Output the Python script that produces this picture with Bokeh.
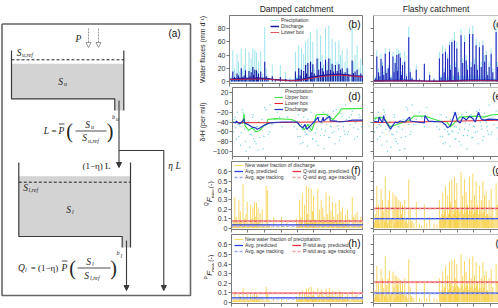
import math
from bokeh.plotting import figure
from bokeh.layouts import row, column
from bokeh.models import Range1d, Legend, LegendItem, Label, FixedTicker, Arrow, NormalHead, Span
from bokeh.core.properties import value
from bokeh.embed import file_html
from bokeh.resources import INLINE

# ---------------- time axis (days over two years) ----------------
t_start, t_end = 0, 730
time_ticks = [0, 91, 182, 274, 365, 456, 547, 638, 730]

# ---------------- precipitation events (shared by both catchments) ----------------
ev_day = [10, 18, 27, 35, 41, 49, 56, 64, 72, 80, 87, 95, 106, 112, 118, 127, 131, 138, 147, 152,
          158, 170, 180, 192, 200, 210, 233, 250, 277, 306, 330,
          359, 368, 377, 385, 392, 404, 414, 420, 427, 441, 448, 454, 462, 477, 486, 496, 505, 512, 523, 532,
          541, 550, 559, 566, 577, 587, 596, 605, 614, 622, 630, 641, 650, 668, 675, 684, 695, 705, 715, 725]
ev_P = [8, 47, 20, 12, 42, 30, 15, 50, 18, 25, 50, 10, 45, 20, 35, 50, 22, 48, 44, 15,
        30, 46, 12, 83, 20, 8, 26, 5, 25, 15, 6,
        45, 10, 55, 20, 50, 42, 60, 25, 65, 75, 30, 60, 20, 80, 35, 70, 40, 25, 82, 30,
        85, 35, 65, 25, 60, 30, 62, 40, 47, 15, 30, 50, 20, 88, 30, 40, 55, 20, 35, 25]
ev_dP = [-35, -52, -20, -70, -48, -62, -15, -25, -80, -45, -58, -92, -66, -30, -75, -60, -85, -50, -40, -72,
         -55, -95, -10, -45, -65, -5, -35, -20, -50, -30, -40,
         -55, -25, -70, -45, -82, -60, -65, -35, -58, -50, -75, -40, -62, -88, -30, -55, -20, -68, -45, -25,
         -72, -50, -35, -60, -15, -48, -78, -22, -40, -58, -5, -65, -30, -18, -52, -42, -70, -25, -38, -60]
# discharge peaks
Qd_peak = [4, 15, 7, 5, 12, 9, 6, 20, 7, 9, 17, 5, 16, 8, 14, 22, 10, 18, 17, 7,
           12, 15, 5, 30, 8, 4, 8, 2, 7, 4, 2,
           15, 5, 20, 9, 18, 16, 25, 12, 28, 30, 14, 26, 12, 35, 18, 30, 20, 15, 33, 17,
           35, 18, 27, 15, 25, 16, 26, 18, 20, 11, 14, 20, 11, 32, 13, 15, 18, 9, 12, 9]
Qf_peak = [5, 38, 14, 8, 34, 24, 10, 42, 13, 20, 45, 6, 38, 14, 28, 40, 16, 42, 36, 10,
           25, 30, 8, 67, 14, 5, 18, 3, 27, 10, 3,
           35, 6, 42, 14, 45, 35, 55, 18, 60, 62, 22, 50, 14, 70, 28, 60, 32, 18, 72, 22,
           72, 26, 55, 18, 52, 22, 55, 30, 40, 10, 22, 42, 14, 75, 22, 32, 45, 14, 28, 18]
# new water fractions per event
fQ_damped = [0.08, 0.33, 0.12, 0.06, 0.30, 0.18, 0.07, 0.47, 0.10, 0.15, 0.28, 0.05, 0.25, 0.10, 0.22, 0.28, 0.12, 0.27, 0.22, 0.08,
             0.16, 0.20, 0.05, 0.45, 0.40, 0.04, 0.12, 0.03, 0.12, 0.06, 0.02,
             0.10, 0.04, 0.30, 0.12, 0.37, 0.25, 0.45, 0.15, 0.43, 0.42, 0.18, 0.35, 0.10, 0.42, 0.20, 0.30, 0.22, 0.12, 0.38, 0.15,
             0.35, 0.18, 0.28, 0.12, 0.27, 0.15, 0.30, 0.18, 0.22, 0.06, 0.14, 0.20, 0.10, 0.33, 0.12, 0.15, 0.18, 0.08, 0.12, 0.08]
fP_damped = [0.02, 0.10, 0.04, 0.02, 0.08, 0.06, 0.03, 0.15, 0.04, 0.05, 0.09, 0.02, 0.08, 0.04, 0.07, 0.09, 0.05, 0.08, 0.07, 0.03,
             0.05, 0.06, 0.02, 0.16, 0.10, 0.02, 0.04, 0.01, 0.04, 0.02, 0.01,
             0.06, 0.02, 0.10, 0.05, 0.12, 0.09, 0.14, 0.06, 0.15, 0.16, 0.07, 0.12, 0.05, 0.15, 0.08, 0.13, 0.09, 0.06, 0.14, 0.07,
             0.15, 0.08, 0.12, 0.06, 0.11, 0.07, 0.12, 0.08, 0.10, 0.03, 0.06, 0.09, 0.05, 0.12, 0.05, 0.07, 0.08, 0.04, 0.05, 0.04]
fQ_flashy = [0.15, 0.45, 0.25, 0.12, 0.42, 0.30, 0.18, 0.55, 0.22, 0.30, 0.40, 0.10, 0.38, 0.20, 0.35, 0.33, 0.22, 0.30, 0.28, 0.15,
             0.25, 0.30, 0.10, 0.52, 0.20, 0.08, 0.28, 0.05, 0.25, 0.12, 0.05,
             0.30, 0.10, 0.38, 0.20, 0.45, 0.35, 0.50, 0.28, 0.52, 0.55, 0.30, 0.48, 0.20, 0.60, 0.35, 0.52, 0.38, 0.25, 0.55, 0.30,
             0.58, 0.35, 0.50, 0.25, 0.45, 0.30, 0.50, 0.35, 0.40, 0.15, 0.30, 0.42, 0.20, 0.48, 0.25, 0.33, 0.40, 0.18, 0.30, 0.22]
fP_flashy = [0.12, 0.38, 0.20, 0.10, 0.35, 0.25, 0.15, 0.48, 0.18, 0.25, 0.33, 0.08, 0.32, 0.16, 0.28, 0.27, 0.18, 0.25, 0.23, 0.12,
             0.20, 0.25, 0.08, 0.45, 0.16, 0.06, 0.22, 0.04, 0.20, 0.10, 0.04,
             0.25, 0.08, 0.32, 0.16, 0.38, 0.28, 0.42, 0.22, 0.44, 0.45, 0.25, 0.40, 0.16, 0.50, 0.28, 0.43, 0.32, 0.20, 0.46, 0.25,
             0.48, 0.28, 0.42, 0.20, 0.38, 0.25, 0.42, 0.28, 0.33, 0.12, 0.25, 0.35, 0.16, 0.40, 0.20, 0.27, 0.33, 0.14, 0.25, 0.18]

# ---------------- minor precipitation events ----------------
mn_day = [5, 14, 22, 31, 45, 60, 68, 76, 91, 100, 115, 123, 135, 143, 163, 175, 186, 205, 220, 262, 290, 345,
          364, 372, 381, 389, 397, 409, 417, 424, 433, 437, 445, 451, 458, 466, 470, 481, 490, 500, 509, 516,
          527, 536, 545, 554, 562, 571, 581, 591, 600, 610, 618, 626, 635, 645, 656, 662, 680, 690, 700, 710, 720]
mn_P = [3, 4, 5, 3, 6, 4, 5, 3, 4, 6, 3, 5, 4, 6, 5, 4, 3, 4, 3, 2, 3, 3,
        6, 8, 7, 9, 6, 8, 9, 7, 10, 8, 9, 7, 10, 8, 9, 10, 8, 9, 10, 8,
        9, 10, 8, 9, 10, 8, 9, 8, 9, 7, 8, 6, 7, 6, 5, 6, 5, 6, 4, 5, 4]
mn_dP = [-60, -30, -75, -45, -88, -20, -55, -100, -40, -65, -25, -80, -50, -98, -35, -70, -15, -60, -45, -30, -10, -50,
         -70, -40, -85, -55, -30, -65, -90, -45, -60, -20, -75, -50, -35, -80, -55, -25, -68, -42, -95, -58,
         -30, -72, -48, -62, -18, -85, -40, -55, -70, -28, -50, -65, -35, -60, -45, -25, -75, -40, -55, -30, -50]
mn_fQ_damped = [0.03, 0.04, 0.05, 0.02, 0.06, 0.03, 0.04, 0.02, 0.04, 0.05, 0.02, 0.04, 0.03, 0.06, 0.04, 0.03, 0.02, 0.03, 0.02, 0.01, 0.02, 0.02,
                0.04, 0.06, 0.05, 0.07, 0.04, 0.06, 0.07, 0.05, 0.08, 0.06, 0.07, 0.05, 0.08, 0.06, 0.07, 0.08, 0.06, 0.07, 0.08, 0.06,
                0.07, 0.08, 0.06, 0.07, 0.08, 0.06, 0.07, 0.06, 0.07, 0.05, 0.06, 0.04, 0.05, 0.04, 0.03, 0.04, 0.03, 0.04, 0.03, 0.03, 0.02]
mn_fP_damped = [0.01, 0.02, 0.02, 0.01, 0.03, 0.01, 0.02, 0.01, 0.02, 0.02, 0.01, 0.02, 0.01, 0.03, 0.02, 0.01, 0.01, 0.01, 0.01, 0.01, 0.01, 0.01,
                0.03, 0.04, 0.03, 0.05, 0.03, 0.04, 0.05, 0.03, 0.06, 0.04, 0.05, 0.03, 0.06, 0.04, 0.05, 0.06, 0.04, 0.05, 0.06, 0.04,
                0.05, 0.06, 0.04, 0.05, 0.06, 0.04, 0.05, 0.04, 0.05, 0.03, 0.04, 0.03, 0.03, 0.03, 0.02, 0.03, 0.02, 0.03, 0.02, 0.02, 0.02]
mn_fQ_flashy = [0.06, 0.08, 0.10, 0.05, 0.12, 0.07, 0.09, 0.05, 0.08, 0.11, 0.05, 0.09, 0.07, 0.12, 0.09, 0.07, 0.05, 0.07, 0.05, 0.03, 0.05, 0.04,
                0.12, 0.15, 0.13, 0.17, 0.12, 0.15, 0.18, 0.13, 0.20, 0.15, 0.17, 0.13, 0.20, 0.15, 0.18, 0.20, 0.15, 0.17, 0.20, 0.15,
                0.18, 0.20, 0.15, 0.17, 0.20, 0.15, 0.18, 0.15, 0.17, 0.13, 0.15, 0.12, 0.13, 0.11, 0.10, 0.12, 0.10, 0.11, 0.08, 0.10, 0.08]
mn_fP_flashy = [0.05, 0.07, 0.08, 0.04, 0.10, 0.06, 0.08, 0.04, 0.07, 0.09, 0.04, 0.08, 0.06, 0.10, 0.08, 0.06, 0.04, 0.06, 0.04, 0.02, 0.04, 0.03,
                0.10, 0.13, 0.11, 0.15, 0.10, 0.13, 0.15, 0.11, 0.17, 0.13, 0.15, 0.11, 0.17, 0.13, 0.15, 0.17, 0.13, 0.15, 0.17, 0.13,
                0.15, 0.17, 0.13, 0.15, 0.17, 0.13, 0.15, 0.13, 0.15, 0.11, 0.13, 0.10, 0.11, 0.09, 0.08, 0.10, 0.08, 0.09, 0.07, 0.08, 0.07]

# ---------------- baseflow / lower box fluxes ----------------
base_day = [0, 40, 90, 150, 200, 240, 280, 320, 360, 400, 440, 480, 520, 560, 600, 640, 680, 730]
lower_damped = [3.0, 3.2, 3.5, 3.8, 3.5, 2.8, 2.0, 1.5, 1.3, 2.5, 4.5, 6.5, 8.0, 9.0, 9.5, 9.0, 8.0, 7.0]
qbase_damped = [3.5, 4.0, 4.5, 5.0, 4.5, 3.2, 2.2, 1.6, 1.5, 3.5, 6.0, 8.0, 9.5, 10.5, 11.0, 10.0, 8.5, 7.5]
lower_flashy = [0.8, 0.8, 0.9, 0.9, 0.9, 0.8, 0.6, 0.4, 0.3, 0.5, 0.8, 1.0, 1.1, 1.2, 1.2, 1.1, 1.0, 0.9]
qbase_flashy = [1.2, 1.3, 1.5, 1.5, 1.4, 1.0, 0.7, 0.5, 0.4, 0.8, 1.3, 1.6, 1.8, 2.0, 2.0, 1.8, 1.5, 1.3]

# ---------------- isotopes (d2H, per mil) ----------------
up_d_day = [0, 55, 62, 64, 70, 90, 110, 130, 150, 175, 192, 196, 240, 330, 359, 377, 400, 420, 441, 459, 466, 520, 541, 560, 596, 606, 730]
up_d_val = [-40, -43, -30, -23, -48, -57, -52, -60, -58, -47, -45, -35, -33, -35, -40, -48, -56, -45, -58, -40, -25, -24, -30, -35, -20, -13, -12]
q_d_day = [0, 18, 20, 41, 62, 64, 66, 87, 106, 127, 138, 150, 170, 192, 210, 277, 359, 377, 392, 404,
           414, 427, 441, 454, 477, 480, 496, 505, 508, 541, 545, 577, 596, 641, 668, 730]
q_d_val = [-40, -42, -38, -44, -36, -33, -42, -45, -50, -52, -55, -53, -48, -44, -42, -40, -40, -48, -52, -45,
           -55, -50, -45, -40, -30, -38, -40, -30, -38, -28, -37, -38, -40, -38, -36, -36]
lo_day = [0, 180, 360, 540, 730]
lo_d_val = [-41, -41.5, -40.5, -39.5, -38]
up_f_day = [0, 40, 60, 90, 130, 197, 220, 280, 360, 400, 420, 470, 560, 600, 650, 730]
up_f_val = [-33, -30, -33, -50, -45, -36, -28, -28, -38, -40, -50, -30, -28, -30, -25, -24]
q_f_day = [0, 27, 30, 49, 55, 60, 76, 93, 100, 118, 131, 145, 170, 197, 200, 277, 280, 300, 373, 391,
           404, 418, 427, 445, 458, 472, 487, 505, 523, 541, 554, 572, 587, 605, 627, 680, 730]
q_f_val = [-38, -40, -30, -42, -27, -35, -45, -55, -50, -40, -42, -38, -40, -30, -38, -42, -27, -38, -40, -45,
           -52, -48, -40, -20, -38, -42, -30, -36, -28, -33, -40, -20, -34, -36, -34, -35, -34]
lo_f_val = [-41, -40, -39, -37.5, -36]

# ---------------- average new water fractions ----------------
# order: avg predicted, avg age tracking, weighted avg predicted, weighted avg age tracking
avg_f = [0.035, 0.02, 0.075, 0.068]
avg_g = [0.10, 0.095, 0.21, 0.205]
avg_h = [0.045, 0.035, 0.095, 0.09]
avg_i = [0.095, 0.09, 0.21, 0.205]

# ---------------- schematic geometry (panel a, pixel units) ----------------
box_x = [1.5, 190, 190, 1.5, 1.5]
box_y = [23.5, 23.5, 295, 295, 23.5]
ufill_x = [11, 123.3, 123.3, 114.3, 114.3, 11]
ufill_y = [63.3, 63.3, 110, 110, 98.3, 98.3]
uwall_x = [11, 11, 114.3, 114.3]
uwall_y = [50, 98.3, 98.3, 110]
urwall_x = [123.3, 123.3]
urwall_y = [50, 110]
uref_x = [11, 123.3]
uref_y = [59.3, 59.3]
lfill_x = [18.3, 130, 130, 121.7, 121.7, 18.3]
lfill_y = [175.7, 175.7, 247, 247, 236, 236]
lwall_x = [18.3, 18.3, 121.7, 121.7]
lwall_y = [162, 236, 236, 247]
lrwall_x = [130, 130]
lrwall_y = [162, 247]
lref_x = [18.3, 130]
lref_y = [181.7, 181.7]
branch_x = [118.5, 163.3]
branch_y = [150, 150]
p_arrows = [(88, 28, 88, 47), (98, 28, 98, 47)]
flow_arrows = [(118.5, 100, 118.5, 167), (163.3, 150, 163.3, 290), (126, 240, 126, 290)]
bars = [(58.5, 64, 123.5), (75, 106, 130.5), (61.5, 67, 260.5), (77, 110, 267.5)]
it_txt = ["P", "S", "S", "S", "S", "L", "P", "S", "S", "Q", "P", "S", "S", "\u03b7 L"]
it_x = [78, 18.5, 60, 25, 68, 46, 61, 87, 84, 21, 64, 88, 86, 174]
it_y = [38, 52, 81, 187, 209, 130, 130, 124, 137.5, 267, 267, 261, 275, 165]
sub_txt = ["u,ref", "u", "l,ref", "l", "u", "u,ref", "b", "u", "l", "l", "l,ref", "b", "l"]
sub_x = [21.5, 63.5, 28, 71.5, 90.5, 87.5, 111.5, 115.5, 24.5, 91.5, 89.5, 116, 120]
sub_y = [54.5, 83.5, 189.5, 211.5, 126.5, 140, 116, 118.5, 269.5, 263.5, 277.5, 252.5, 255]
rm_txt = ["=", "(1\u2212\u03b7) L", "= (1\u2212\u03b7)"]
rm_x = [53.5, 96, 44]
rm_y = [130, 165, 267]
par_txt = ["(", ")", "(", ")"]
par_x = [69, 109.5, 72, 113]
par_y = [130, 130, 267, 267]

# F_new axis-title pieces (x in page pixels, y offset from frame centre, upward)
flab_txt_tail = ["F", "new", "(-)"]
flab_x = [205, 208.5, 212, 209.5]
flab_dy = [-12, -7, -0.5, 9]
flab_size = ["5px", "8px", "5px", "7px"]
flab_style = ["normal", "italic", "normal", "normal"]

# ---------------- styling ----------------
FONT = "Liberation Sans"
SERIF = "Liberation Serif"
FRAME = "#7a7a7a"
CYAN = "#86dde9"
CYAN_DOT = "#4cc6d6"
NAVY = "#1a1aa6"
NAVY2 = "#2626bc"
RED = "#e3262e"
GREEN = "#3ee63e"
ISO_BLUE = "#2233c4"
GOLD = "#f6c623"
AVG_BLUE = "#2a3fe0"
AGE_BLUE = "#97a3ff"
WTD_RED = "#e2303a"
AGE_PINK = "#f5a0a8"

ROWS = [(87, 14, 4), (74, 0, 5), (73, 0, 5), (74, 0, 5)]   # height, top border, bottom border
FRAME0 = 134                                               # column-1 frame width
LEFT0 = 34                                                 # column-1 left border (total)
FLAB_W = 19                                                # width of F-label strip
COL2 = (135, 10)                                           # width, left border

all_day = ev_day + mn_day


def base_fig(ci, ri, y_lo, y_hi, yticks, left=None):
    h, top, bot = ROWS[ri]
    if ci == 0:
        lb = LEFT0 if left is None else left
        w = lb + FRAME0
        x_hi = t_end
    else:
        w, lb = COL2
        x_hi = t_start + (t_end - t_start) * (w - lb) / FRAME0
    p = figure(width=w, height=h, x_range=Range1d(t_start, x_hi), y_range=Range1d(y_lo, y_hi),
               output_backend="svg", toolbar_location=None,
               min_border_left=lb, min_border_right=0, min_border_top=top, min_border_bottom=bot)
    p.grid.visible = False
    p.outline_line_color = FRAME if ci == 0 else None
    for ax in p.axis:
        ax.axis_line_color = FRAME
        ax.major_tick_line_color = FRAME
        ax.major_tick_out = 3
        ax.major_tick_in = 0
        ax.minor_tick_line_color = FRAME
        ax.minor_tick_out = 3
        ax.minor_tick_in = 0
        ax.major_label_text_font = FONT
        ax.major_label_text_font_size = "7px"
        ax.major_label_text_color = "#333333"
        ax.major_label_standoff = 1
    # unlabeled ticks are drawn as minor ticks
    p.xaxis.ticker = FixedTicker(ticks=[], minor_ticks=time_ticks)
    if ci == 0:
        p.yaxis.ticker = FixedTicker(ticks=yticks, minor_ticks=[])
    else:
        p.yaxis.ticker = FixedTicker(ticks=[], minor_ticks=yticks)
        p.add_layout(Span(location=y_hi, dimension="width", line_color=FRAME, line_width=1))
    return p


def panel_label(p, txt, y_hi):
    p.add_layout(Label(x=t_end, y=y_hi, x_offset=-3, y_offset=-3, text=txt, text_align="right",
                       text_baseline="top", text_font=FONT, text_font_size="10px", text_color="#111111"))


def legend(p, items, loc):
    lg = Legend(items=items, location=loc, orientation="vertical",
                label_text_font=FONT, label_text_font_size="5px", label_text_color="#333333",
                label_height=6, glyph_height=6, glyph_width=9, label_standoff=2,
                spacing=0, padding=0, margin=0, background_fill_alpha=0, border_line_alpha=0)
    p.add_layout(lg)


def ylabel(p, txt, standoff):
    p.yaxis.axis_label = txt
    p.yaxis.axis_label_text_font = FONT
    p.yaxis.axis_label_text_font_size = "7px"
    p.yaxis.axis_label_text_font_style = "normal"
    p.yaxis.axis_label_text_color = "#222222"
    p.yaxis.axis_label_standoff = standoff


def flab_fig(ri, sup):
    h, top, bot = ROWS[ri]
    x0 = 195
    q = figure(width=FLAB_W, height=h, x_range=Range1d(x0, x0 + FLAB_W), y_range=Range1d(0, h),
               output_backend="svg", toolbar_location=None, min_border=0)
    q.axis.visible = False
    q.grid.visible = False
    q.outline_line_color = None
    yc = bot + (h - top - bot) / 2
    txt = [sup] + flab_txt_tail
    for t, x, dy, sz, st in zip(txt, flab_x, flab_dy, flab_size, flab_style):
        q.text(x=[x], y=[yc + dy], text=[t], angle=math.pi / 2, text_font=value(FONT), text_font_size=sz,
               text_font_style=st, text_align="center", text_baseline="middle", text_color="#222222")
    return q


def flux_panel(ci, Qpeak, qbase, lower, with_legend, title, lab, title_offset, qcol):
    p = base_fig(ci, 0, -3, 100, [0, 20, 40, 60, 80])
    zeros_ev = [0] * len(ev_day)
    zeros_mn = [0] * len(mn_day)
    r_p = p.segment(x0=ev_day, y0=zeros_ev, x1=ev_day, y1=ev_P, line_color=CYAN, line_width=1, line_alpha=0.8)
    p.segment(x0=mn_day, y0=zeros_mn, x1=mn_day, y1=mn_P, line_color=CYAN, line_width=1.2, line_alpha=0.8)
    p.segment(x0=ev_day, y0=zeros_ev, x1=ev_day, y1=Qpeak, line_color=qcol, line_width=1.1)
    r_q = p.line(base_day, qbase, line_color=NAVY, line_width=1.5)
    r_l = p.line(base_day, lower, line_color=RED, line_width=1, line_alpha=0.8)
    p.title.text = title
    p.title.align = "center"
    p.title.offset = title_offset
    p.title.standoff = 3
    p.title.text_font = FONT
    p.title.text_font_size = "8.5px"
    p.title.text_font_style = "normal"
    p.title.text_color = "#222222"
    if with_legend:
        legend(p, [LegendItem(label="Precipitation", renderers=[r_p]),
                   LegendItem(label="Discharge", renderers=[r_q]),
                   LegendItem(label="Lower box", renderers=[r_l])], (41, 48))
        ylabel(p, "Water fluxes (mm d\u207b\u00b9)", 9)
    panel_label(p, lab, 100)
    return p


def iso_panel(ci, up_day, up_val, q_day, q_val, lo_val, with_legend, lab):
    p = base_fig(ci, 1, -111, 31, [20, 0, -20, -40, -60, -80, -100])
    p.scatter(all_day, ev_dP + mn_dP, size=1.5, color=CYAN_DOT, alpha=0.7, line_width=0)
    r_u = p.line(up_day, up_val, line_color=GREEN, line_width=1.1)
    r_l = p.line(lo_day, lo_val, line_color=RED, line_width=1.1)
    r_q = p.line(q_day, q_val, line_color=ISO_BLUE, line_width=1.2)
    if with_legend:
        r_pl = p.line(x=[], y=[], line_color=CYAN_DOT, line_width=1)
        legend(p, [LegendItem(label="Precipitation", renderers=[r_pl]),
                   LegendItem(label="Upper box", renderers=[r_u]),
                   LegendItem(label="Lower box", renderers=[r_l]),
                   LegendItem(label="Discharge", renderers=[r_q])], (42, 44))
        ylabel(p, "\u03b4\u00b2H (per mil)", 4)
    panel_label(p, lab, 31)
    return p


def fnew_panel(ci, ri, fev, fmn, avgs, with_legend, kind, lab):
    left = (LEFT0 - FLAB_W) if ci == 0 else None
    p = base_fig(ci, ri, -0.015, 0.71, [0, 0.1, 0.2, 0.3, 0.4, 0.5, 0.6], left=left)
    p.yaxis.major_label_overrides = {0: "0"}
    r_f = p.segment(x0=ev_day, y0=[0] * len(ev_day), x1=ev_day, y1=fev, line_color=GOLD, line_width=1, line_alpha=0.7)
    p.segment(x0=mn_day, y0=[0] * len(mn_day), x1=mn_day, y1=fmn, line_color=GOLD, line_width=1, line_alpha=0.7)
    xs = [t_start, t_end]
    r_a = p.line(xs, [avgs[0]] * 2, line_color=AVG_BLUE, line_width=1.3)
    r_at = p.line(xs, [avgs[1]] * 2, line_color=AGE_BLUE, line_width=1.3, line_dash="3 2")
    r_w = p.line(xs, [avgs[2]] * 2, line_color=WTD_RED, line_width=1.3)
    r_wt = p.line(xs, [avgs[3]] * 2, line_color=AGE_PINK, line_width=1.3, line_dash="3 2")
    if with_legend:
        name = "discharge" if kind == "Q" else "precipitation"
        legend(p, [LegendItem(label="New water fraction of " + name, renderers=[r_f])], (3, 61))
        legend(p, [LegendItem(label="Avg. predicted", renderers=[r_a]),
                   LegendItem(label="Avg. age tracking", renderers=[r_at])], (3, 49))
        legend(p, [LegendItem(label=kind + "-wtd avg. predicted", renderers=[r_w]),
                   LegendItem(label=kind + "-wtd avg. age tracking", renderers=[r_wt])], (61, 49))
    panel_label(p, lab, 0.71)
    return p


# ---------------- schematic ----------------
s = figure(width=195, height=308, x_range=Range1d(0, 195), y_range=Range1d(308, 0),
           output_backend="svg", toolbar_location=None, min_border=0)
s.axis.visible = False
s.grid.visible = False
s.outline_line_color = None
WALL = "#3a3a3a"
s.patch(ufill_x, ufill_y, fill_color="#d3d3d3", line_color=None)
s.patch(lfill_x, lfill_y, fill_color="#d3d3d3", line_color=None)
s.line(box_x, box_y, line_color="#666666", line_width=1.6)
for xs_, ys_ in [(uwall_x, uwall_y), (urwall_x, urwall_y), (lwall_x, lwall_y), (lrwall_x, lrwall_y)]:
    s.line(xs_, ys_, line_color=WALL, line_width=1.2)
s.line(uref_x, uref_y, line_color="#222222", line_width=1, line_dash="3 2")
s.line(lref_x, lref_y, line_color="#222222", line_width=1, line_dash="3 2")
s.line(branch_x, branch_y, line_color=WALL, line_width=1.1)
for (x0, y0, x1, y1) in p_arrows:
    s.add_layout(Arrow(x_start=x0, y_start=y0, x_end=x1, y_end=y1, line_color="#9a9a9a", line_width=1,
                       line_dash="2 1", end=NormalHead(size=5, line_color="#9a9a9a", fill_color="white")))
for (x0, y0, x1, y1) in flow_arrows:
    s.add_layout(Arrow(x_start=x0, y_start=y0, x_end=x1, y_end=y1, line_color=WALL, line_width=1.1,
                       end=NormalHead(size=5, line_color=WALL, fill_color=WALL)))
s.segment(x0=[b[0] for b in bars], y0=[b[2] for b in bars], x1=[b[1] for b in bars], y1=[b[2] for b in bars],
          line_color="#222222", line_width=0.8)
s.text(x=it_x, y=it_y, text=it_txt, text_font=value(SERIF), text_font_style="italic", text_font_size="9.5px",
       text_align="center", text_baseline="middle", text_color="#222222")
s.text(x=sub_x, y=sub_y, text=sub_txt, text_font=value(SERIF), text_font_style="italic", text_font_size="6px",
       text_align="left", text_baseline="middle", text_color="#222222")
s.text(x=rm_x, y=rm_y, text=rm_txt, text_font=value(SERIF), text_font_size="9px",
       text_align="center", text_baseline="middle", text_color="#222222")
s.text(x=par_x, y=par_y, text=par_txt, text_font=value(SERIF), text_font_size="20px",
       text_align="center", text_baseline="middle", text_color="#222222")
s.add_layout(Label(x=174, y=33, text="(a)", text_align="center", text_baseline="middle",
                   text_font=FONT, text_font_size="10px", text_color="#111111"))

# ---------------- panels ----------------
pb = flux_panel(0, Qd_peak, qbase_damped, lower_damped, True, "Damped catchment", "(b)", -11, NAVY)
pc = flux_panel(1, Qf_peak, qbase_flashy, lower_flashy, False, "Flashy catchment", "(c)", 0, NAVY2)
pd = iso_panel(0, up_d_day, up_d_val, q_d_day, q_d_val, lo_d_val, True, "(d)")
pe = iso_panel(1, up_f_day, up_f_val, q_f_day, q_f_val, lo_f_val, False, "(e)")
pf = fnew_panel(0, 2, fQ_damped, mn_fQ_damped, avg_f, True, "Q", "(f)")
pg = fnew_panel(1, 2, fQ_flashy, mn_fQ_flashy, avg_g, False, "Q", "(g)")
ph = fnew_panel(0, 3, fP_damped, mn_fP_damped, avg_h, True, "P", "(h)")
pi = fnew_panel(1, 3, fP_flashy, mn_fP_flashy, avg_i, False, "P", "(i)")

grid = column(row(pb, pc), row(pd, pe), row(flab_fig(2, "Q"), pf, pg), row(flab_fig(3, "P"), ph, pi))
layout = row(s, grid)

open("out.html", "w").write(file_html(layout, INLINE))
